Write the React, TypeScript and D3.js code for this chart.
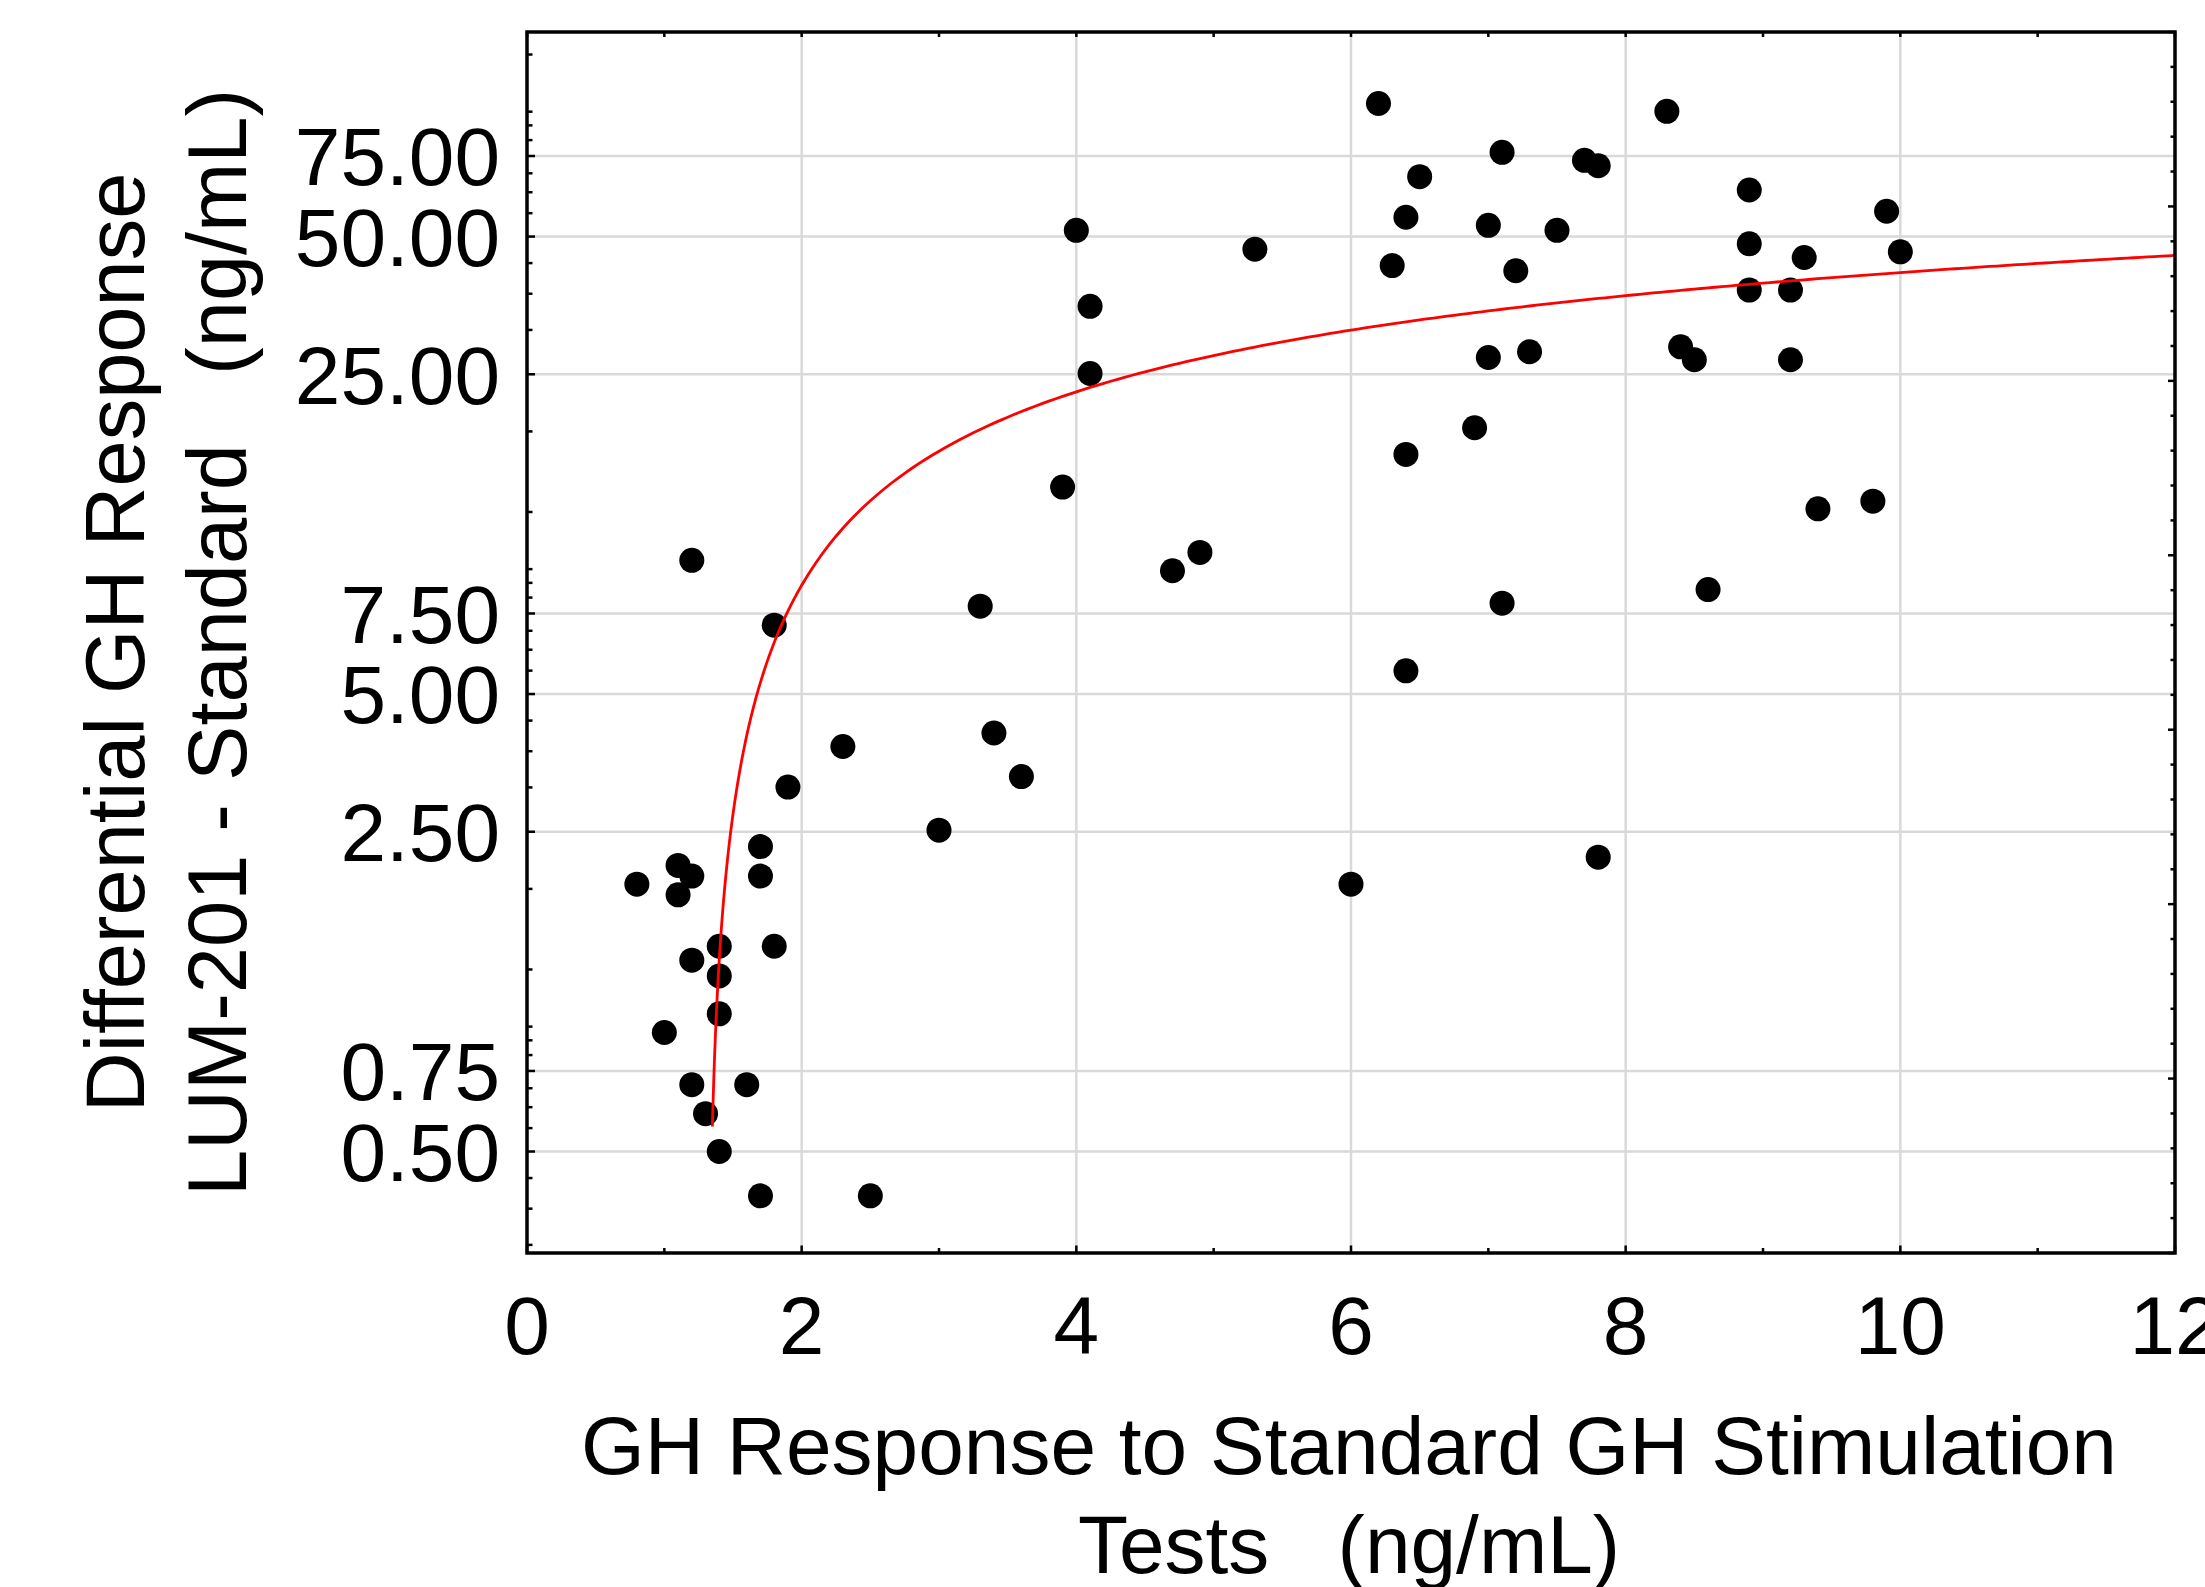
import React from 'react';
import * as d3 from 'd3';

// ---- data ----
const xValues = [
  0.8, 1.0, 1.1, 1.1, 1.2, 1.2, 1.2, 1.2, 1.3, 1.4, 1.4, 1.4, 1.4, 1.6, 1.7, 1.7, 1.7, 1.8, 1.8, 1.9,
  2.3, 2.5, 3.0, 3.3, 3.4, 3.6, 3.9, 4.0, 4.1, 4.1, 4.7, 4.9, 5.3, 6.0, 6.2, 6.3, 6.4, 6.4, 6.4, 6.5,
  6.9, 7.0, 7.0, 7.1, 7.1, 7.2, 7.3, 7.5, 7.7, 7.8, 7.8, 8.3, 8.4, 8.5, 8.6, 8.9, 8.9, 8.9, 9.2, 9.2,
  9.3, 9.4, 9.8, 9.9, 10.0,
];
const yValues = [
  1.92, 0.91, 2.11, 1.82, 9.8, 2.0, 1.31, 0.70, 0.605, 1.405, 1.21, 1.0, 0.5, 0.70, 2.32, 2.0, 0.40, 7.07, 1.405, 3.13,
  3.84, 0.40, 2.52, 7.78, 4.11, 3.30, 14.17, 51.6, 35.2, 25.1, 9.3, 10.2, 46.9, 1.92, 97.7, 43.2, 55.1, 16.7, 5.62, 67.6,
  19.1, 52.9, 27.2, 76.4, 7.9, 42.1, 28.0, 51.6, 73.4, 71.4, 2.2, 93.9, 28.7, 26.9, 8.46, 63.2, 48.2, 38.2, 38.2, 26.9,
  45.0, 12.7, 13.2, 56.8, 46.3,
];

// logarithmic fit shown in red: y = fitA + fitB * ln(x)
const fitA = -5.6;
const fitB = 20.55;
const fitXStart = 1.35;
const fitXEnd = 12;

const xTickValues = [0, 2, 4, 6, 8, 10, 12];
const xGridValues = [2, 4, 6, 8, 10];
const yMajorTicks = [0.5, 0.75, 2.5, 5, 7.5, 25, 50, 75];
const xDomain = [0, 12];
const yDomain = [0.3, 140];

const xTitleLines = ['GH Response to Standard GH Stimulation', 'Tests   (ng/mL)'];
const yTitleLines = ['Differential GH Response', 'LUM-201 - Standard   (ng/mL)'];

const FONT = '"Liberation Sans", Arial, Helvetica, sans-serif';

export default function App() {
  const W = 2205;
  const H = 1587;
  const L = 527;
  const R = 2175;
  const T = 32;
  const B = 1253;

  const x = d3.scaleLinear().domain(xDomain).range([L, R]);
  const y = d3.scaleLog().domain(yDomain).range([B, T]);

  // y ticks: quarter steps of 2.5 * 10^k
  const yTicks: { v: number; major: boolean }[] = [];
  for (let k = -1; k <= 2; k++) {
    for (let m = 2; m <= 15; m++) {
      const v = 0.625 * m * Math.pow(10, k);
      if (v >= yDomain[0] && v <= yDomain[1]) yTicks.push({ v, major: m % 4 === 0 });
    }
  }
  const xMinorTicks = d3.range(1, 12, 2);
  const topTicks = d3.range(0, 13, 1);
  const side = d3.scaleLinear().domain([0, 35]).range([B, T]);
  const sideTicks = d3.range(0, 36);

  const fitXs: number[] = [];
  for (let v = fitXStart; v < 2; v += 0.005) fitXs.push(v);
  for (let v = 2; v <= fitXEnd + 1e-9; v += 0.05) fitXs.push(v);
  const line = d3
    .line<number>()
    .x((d) => x(d))
    .y((d) => y(fitA + fitB * Math.log(d)));

  const gridColor = '#d9d9d9';

  return (
    <svg
      width={W}
      height={H}
      viewBox={`0 0 ${W} ${H}`}
      style={{ position: 'absolute', left: 0, top: 0, display: 'block', background: '#fff' }}
      fontFamily={FONT}
    >
      <rect x={0} y={0} width={W} height={H} fill="#fff" />
      {/* grid */}
      {xGridValues.map((v) => (
        <line key={'gx' + v} x1={x(v)} x2={x(v)} y1={T} y2={B} stroke={gridColor} strokeWidth={2.5} />
      ))}
      {yMajorTicks.map((v) => (
        <line key={'gy' + v} x1={L} x2={R} y1={y(v)} y2={y(v)} stroke={gridColor} strokeWidth={2.5} />
      ))}

      {/* points */}
      {xValues.map((xv, i) => (
        <circle key={'p' + i} cx={x(xv)} cy={y(yValues[i])} r={12.5} fill="#000" />
      ))}

      {/* fit */}
      <path d={line(fitXs) || ''} fill="none" stroke="#ff0000" strokeWidth={2.8} />

      {/* left ticks */}
      {yTicks.map((t, i) => (
        <line key={'yl' + i} x1={L} x2={L + (t.major ? 8 : 5.5)} y1={y(t.v)} y2={y(t.v)} stroke="#000" strokeWidth={2.5} />
      ))}
      {/* right ticks */}
      {sideTicks.map((i) => (
        <line key={'yr' + i} x1={R} x2={R - (i % 5 === 0 ? 7 : 4.5)} y1={side(i)} y2={side(i)} stroke="#000" strokeWidth={2.5} />
      ))}
      {/* bottom ticks */}
      {xTickValues.map((v) => (
        <line key={'xb' + v} x1={x(v)} x2={x(v)} y1={B} y2={B - 7.5} stroke="#000" strokeWidth={2.5} />
      ))}
      {xMinorTicks.map((v) => (
        <line key={'xbm' + v} x1={x(v)} x2={x(v)} y1={B} y2={B - 5} stroke="#000" strokeWidth={2.5} />
      ))}
      {/* top ticks */}
      {topTicks.map((v) => (
        <line key={'xt' + v} x1={x(v)} x2={x(v)} y1={T} y2={T + 5} stroke="#000" strokeWidth={2.5} />
      ))}

      {/* frame */}
      <rect x={L} y={T} width={R - L} height={B - T} fill="none" stroke="#000" strokeWidth={3.5} />

      {/* y tick labels */}
      {yMajorTicks.map((v) => (
        <text key={'yt' + v} x={500} y={y(v) + 29.3} textAnchor="end" fontSize={82} fill="#000">
          {v.toFixed(2)}
        </text>
      ))}
      {/* x tick labels */}
      {xTickValues.map((v) => (
        <text key={'xtl' + v} x={x(v)} y={1354} textAnchor="middle" fontSize={82} fill="#000">
          {String(v)}
        </text>
      ))}

      {/* x title */}
      {xTitleLines.map((s, i) => (
        <text
          key={'xtt' + i}
          x={1349}
          y={1474 + i * 98.5}
          textAnchor="middle"
          fontSize={82}
          fill="#000"
          style={{ whiteSpace: 'pre' }}
        >
          {s}
        </text>
      ))}
      {/* y title */}
      {yTitleLines.map((s, i) => (
        <text
          key={'ytt' + i}
          transform={`translate(${144 + i * 101.5},${642.5}) rotate(-90)`}
          textAnchor="middle"
          fontSize={83}
          fill="#000"
          style={{ whiteSpace: 'pre' }}
        >
          {s}
        </text>
      ))}
    </svg>
  );
}
